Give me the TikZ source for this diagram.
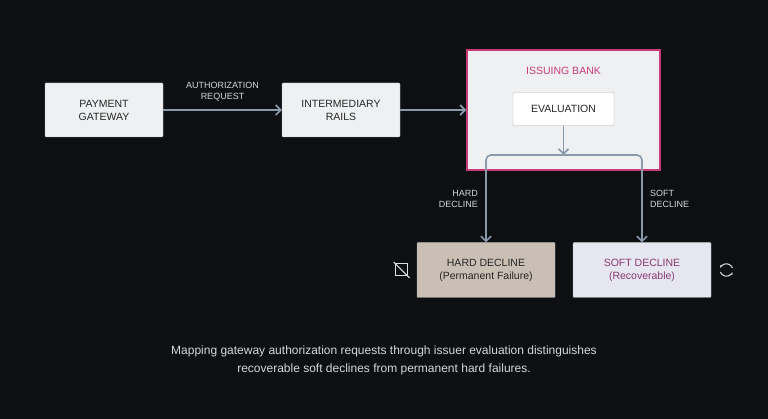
\documentclass[tikz,border=0pt]{standalone}
\usepackage{fontspec}
\setmainfont{Liberation Sans}
\usetikzlibrary{positioning, arrows.meta}
\definecolor{bgdark}{HTML}{0D0F12}
\definecolor{boxfill}{HTML}{EEF0F2}
\definecolor{flowline}{HTML}{8A9AAA}
\definecolor{hardfill}{HTML}{C9BFB4}
\definecolor{softfill}{HTML}{E6E6F0}
\definecolor{softtext}{HTML}{8A3A72}
\definecolor{bankpink}{HTML}{C83A78}
\definecolor{labeltext}{HTML}{D4D8DC}
\tikzset{
    payStep/.style={rectangle, draw=gray!60, fill=boxfill, minimum width=118pt, minimum height=54pt, align=center, font=\fontsize{10.5}{13}\selectfont, text=black!85, rounded corners=1pt},
    arrow/.style={-{Straight Barb[length=5pt,width=10pt]}, draw=flowline, line width=1.6pt},
    flowlabel/.style={font=\fontsize{9}{11}\selectfont, text=labeltext, align=center},
    icon/.style={draw=labeltext!80, line width=1pt}
}
\begin{document}
\begin{tikzpicture}[x=1pt, y=-1pt]
    % Background
    \fill[bgdark] (0,0) rectangle (768,419);
    \useasboundingbox (0,0) rectangle (768,419);

    % --- MAIN PATH ---
    \node[payStep] (Gateway) at (104,110) {PAYMENT\\GATEWAY};
    \node[payStep] (Rails) at (341,110) {INTERMEDIARY\\RAILS};

    % Issuing bank
    \node[rectangle, draw=bankpink, line width=1.5pt, fill=boxfill, minimum width=193pt, minimum height=120pt] (Bank) at (563.5,110) {};
    \node[font=\fontsize{10.5}{13}\selectfont, text=bankpink] (BankTitle) at (563.5,71) {ISSUING BANK};
    \node[payStep, minimum width=101pt, minimum height=33pt, fill=white] (Eval) at (563.5,109) {EVALUATION};

    \draw[arrow] (Gateway) -- (Rails) node[midway, above=5pt, flowlabel] {AUTHORIZATION\\REQUEST};
    \draw[arrow] (Rails) -- (Bank);

    % --- OUTCOMES ---
    \node[payStep, minimum width=138pt, minimum height=55pt, fill=hardfill] (Hard) at (486,270) {HARD DECLINE\\(Permanent Failure)};
    \node[payStep, minimum width=138pt, minimum height=55pt, fill=softfill, text=softtext] (Soft) at (642,270) {SOFT DECLINE\\(Recoverable)};

    \coordinate (Split) at (563.5,155);
    \draw[arrow] (Eval) -- (Split);
    \draw[arrow, rounded corners=5pt] (Split) -| (Hard.north) node[pos=0.75, left=4pt, flowlabel, align=right] {HARD\\DECLINE};
    \draw[arrow, rounded corners=5pt] (Split) -| (Soft.north) node[pos=0.75, right=4pt, flowlabel, align=left] {SOFT\\DECLINE};

    % Icons
    \node[minimum size=14pt, left=8pt of Hard] (HardIcon) {};
    \draw[icon] (HardIcon.center) ++(-6,-6) rectangle ++(12,12);
    \draw[icon] (HardIcon.center) ++(-8,-8) -- ++(16,16);
    \node[minimum size=14pt, right=8pt of Soft] (SoftIcon) {};
    \draw[icon, -{Stealth[length=3pt]}] (SoftIcon.center) ++(6,-2) arc[start angle=-20, end angle=-160, radius=6.4];
    \draw[icon, -{Stealth[length=3pt]}] (SoftIcon.center) ++(-6,2) arc[start angle=160, end angle=20, radius=6.4];

    % Caption
    \node[font=\fontsize{12}{18}\selectfont, text=labeltext, align=center] (Caption) at (384,360) {Mapping gateway authorization requests through issuer evaluation distinguishes\\recoverable soft declines from permanent hard failures.};
\end{tikzpicture}
\end{document}
